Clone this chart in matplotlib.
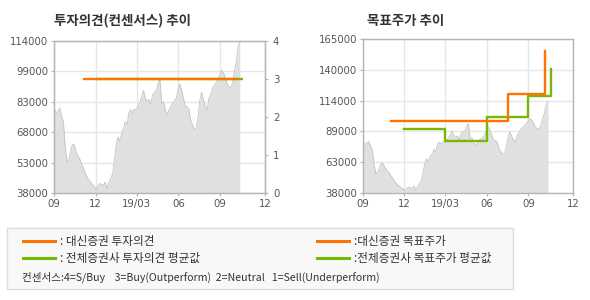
import matplotlib
matplotlib.use("Agg")
import matplotlib.pyplot as plt
import pandas as pd
from matplotlib.lines import Line2D
from matplotlib.patches import Rectangle


OUTPUT_IMAGE_NAME = "out.png"

KR_FONT = ["Noto Sans CJK KR", "DejaVu Sans"]
ORANGE = "#ff7300"
GREEN = "#77b900"
GRID = "#e6e6e6"
SPINE = "#b4b4b4"
TEXT = "#555555"

# 주가 (4일 간격, 2018-09-01 ~ 2019-10-13)
PRICE_START = "2018-09-01"
PRICE_STEP = "4D"
prices = [
    80000, 78000, 79000, 80500, 76500, 73500, 61000, 53500, 55000, 59000,
    62500, 62000, 58500, 56500, 55000, 52500, 50500, 47800, 46000, 44300,
    43500, 42000, 41300, 39500, 41500, 42800, 42300, 41700, 43500, 40200,
    43200, 45300, 47500, 54000, 62500, 66000, 63800, 68000, 70200, 73700,
    72200, 78300, 79800, 78000, 80000, 79500, 81000, 83300, 86000, 89300,
    85300, 83800, 85000, 82000, 87000, 88200, 89000, 92500, 95300, 83000,
    83500, 79700, 77000, 79500, 81300, 82800, 84200, 85200, 90000, 92600,
    89600, 85300, 81500, 81200, 79700, 74200, 72000, 70000, 70500, 76000,
    84500, 88500, 84500, 81500, 79600, 85400, 87400, 90500, 91700, 93400,
    95000, 97300, 99300, 98200, 95700, 92400, 91200, 90400, 93300, 99000,
    103600, 111000, 114000,
]

# 투자의견 (컨센서스)
opinion_daishin_dates = ["2018-11-03", "2019-10-10"]
opinion_daishin = [3, 3]
opinion_avg_dates = ["2018-12-01", "2019-10-22"]
opinion_avg = [3, 3]

# 목표주가
target_daishin_dates = ["2018-11-02", "2019-07-18", "2019-10-08"]
target_daishin = [97000, 120000, 155000]
target_avg_dates = ["2018-12-01", "2019-03-01", "2019-06-01", "2019-09-01", "2019-10-20"]
target_avg = [91000, 81000, 101000, 118000, 140000]

x_tick_dates = ["2018-09-01", "2018-12-01", "2019-03-01", "2019-06-01", "2019-09-01", "2019-12-09"]
x_tick_labels = ["09", "12", "19/03", "06", "09", "12"]

left_ticks = [38000, 53200, 68400, 83600, 98800, 114000]
left_labels = ["38000", "53000", "68000", "83000", "99000", "114000"]
opinion_ticks = [0, 1, 2, 3, 4]

right_ticks = [38000, 63400, 88800, 114200, 139600, 165000]
right_labels = ["38000", "63000", "89000", "114000", "140000", "165000"]


def style_axes(ax, yticks, ylabels):
    dates = pd.to_datetime(x_tick_dates)
    ax.set_xlim(dates[0], dates[-1])
    ax.set_ylim(yticks[0], yticks[-1])
    ax.set_xticks(dates)
    ax.set_xticklabels(x_tick_labels)
    ax.set_yticks(yticks)
    ax.set_yticklabels(ylabels)
    ax.tick_params(colors=SPINE, labelcolor=TEXT, labelsize=7.3, length=2.5, width=0.8, pad=2)
    ax.grid(True, color=GRID, linewidth=1.0)
    ax.set_axisbelow(True)
    for spine in ax.spines.values():
        spine.set_color(SPINE)
        spine.set_linewidth(1.0)


def draw_price(ax, bottom):
    dates = pd.date_range(PRICE_START, periods=len(prices), freq=PRICE_STEP)
    ax.fill_between(dates, prices, bottom, color="#e0e0e0", linewidth=0, zorder=1)
    ax.plot(dates, prices, color="#c4c4c4", linewidth=0.6, zorder=2)


def main():
    fig = plt.figure(figsize=(5.9, 3.0), dpi=100)
    W, H = 590.0, 300.0

    # 투자의견 차트
    ax1 = fig.add_axes([54.3 / W, 1 - 193 / H, 211 / W, 152 / H])
    style_axes(ax1, left_ticks, left_labels)
    draw_price(ax1, left_ticks[0])

    ax1r = ax1.twinx()
    ax1r.set_ylim(0, 4)
    ax1r.set_yticks(opinion_ticks)
    ax1r.tick_params(colors=SPINE, labelcolor=TEXT, labelsize=7.3, length=2.5, width=0.8, pad=3)
    for spine in ax1r.spines.values():
        spine.set_color(SPINE)
    ax1r.plot(pd.to_datetime(opinion_avg_dates), opinion_avg, color=GREEN, linewidth=1.7,
              solid_capstyle="butt")
    ax1r.plot(pd.to_datetime(opinion_daishin_dates), opinion_daishin, color=ORANGE, linewidth=1.7,
              solid_capstyle="butt")
    ax1.set_xlim(pd.to_datetime(x_tick_dates)[0], pd.to_datetime(x_tick_dates)[-1])

    # 목표주가 차트
    ax2 = fig.add_axes([363.3 / W, 1 - 192.7 / H, 210 / W, 153.4 / H])
    style_axes(ax2, right_ticks, right_labels)
    draw_price(ax2, right_ticks[0])
    ax2.plot(pd.to_datetime(target_daishin_dates), target_daishin, color=ORANGE, linewidth=1.7,
             drawstyle="steps-post", zorder=4)
    ax2.plot(pd.to_datetime(target_avg_dates), target_avg, color=GREEN, linewidth=1.7,
             drawstyle="steps-post", zorder=3)

    fig.text(54 / W, 1 - 20.5 / H, "투자의견(컨센서스) 추이", family=KR_FONT, fontsize=9.7,
             fontweight="bold", color="#333333", va="center")
    fig.text(367 / W, 1 - 20.5 / H, "목표주가 추이", family=KR_FONT, fontsize=9.7,
             fontweight="bold", color="#333333", va="center")

    # 범례 박스
    fig.patches.append(Rectangle((7 / W, 1 - 289 / H), 506 / W, 61 / H, transform=fig.transFigure,
                                 facecolor="#f8f8f8", edgecolor="#dcdcdc", linewidth=1.0))
    legend_items = [
        (23, 241, ORANGE, ": 대신증권 투자의견"),
        (23, 258, GREEN, ": 전체증권사 투자의견 평균값"),
        (317, 241, ORANGE, ":대신증권 목표주가"),
        (317, 258, GREEN, ":전체증권사 목표주가 평균값"),
    ]
    for x0, y0, color, label in legend_items:
        fig.lines.append(Line2D([x0 / W, (x0 + 32) / W], [1 - y0 / H, 1 - y0 / H],
                                transform=fig.transFigure, color=color, linewidth=2.2))
        fig.text((x0 + 37) / W, 1 - y0 / H, label, family=KR_FONT, fontsize=8.4, color="#333333",
                 va="center")
    fig.text(22 / W, 1 - 277 / H,
             "컨센서스:4=S/Buy    3=Buy(Outperform)  2=Neutral   1=Sell(Underperform)",
             family=KR_FONT, fontsize=7.6, color="#333333", va="center")

    fig.savefig(OUTPUT_IMAGE_NAME, dpi=100)
    plt.close(fig)


if __name__ == "__main__":
    main()
